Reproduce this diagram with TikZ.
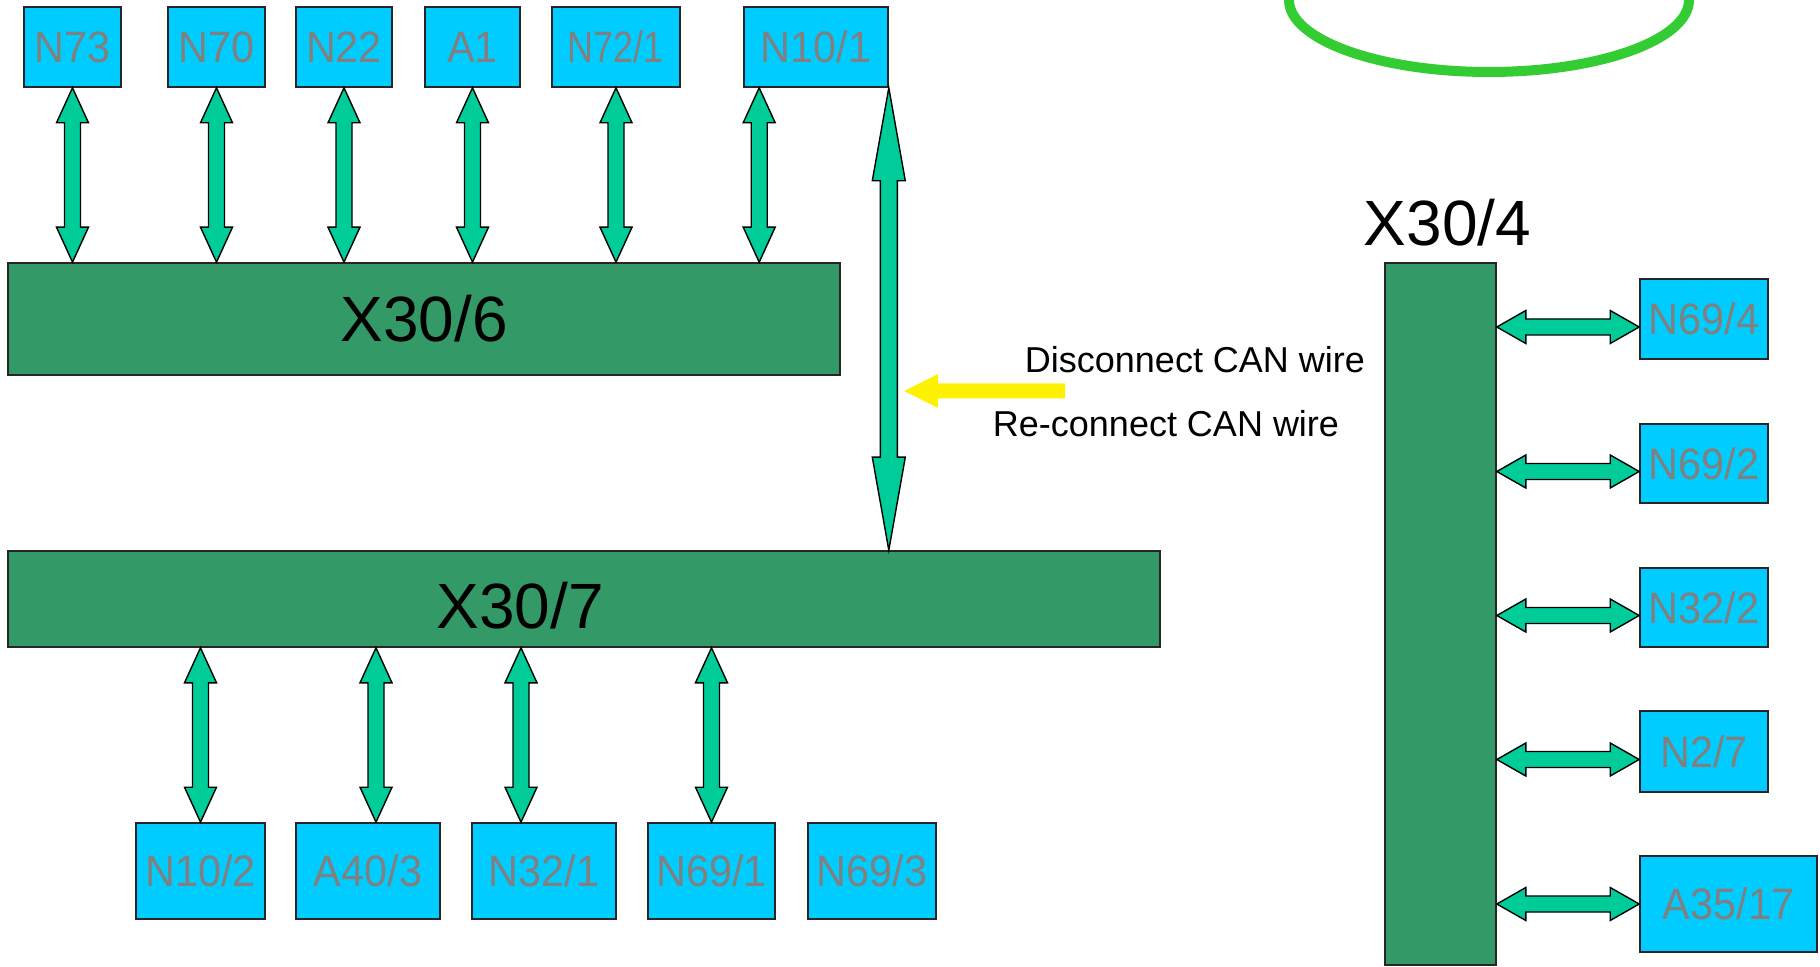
\documentclass[tikz,border=0pt]{standalone}
\usepackage{fontspec}
\setmainfont{Liberation Sans}
\newfontfamily\unitfont[FakeStretch=0.94]{Liberation Sans}
\usepackage{graphicx}
\usetikzlibrary{calc}
\definecolor{canblue}{RGB}{0,204,255}
\definecolor{busgreen}{RGB}{51,153,102}
\definecolor{linkgreen}{RGB}{0,204,153}
\definecolor{labelgray}{RGB}{128,128,128}
\definecolor{ringgreen}{RGB}{51,204,51}

% fat double arrow: from, to, head length, half head width, half shaft width
\newcommand{\buslink}[5]{%
  \filldraw[link] (#1)
    -- ($(#1)!#3!(#2)!#4!90:(#2)$) -- ($(#1)!#3!(#2)!#5!90:(#2)$)
    -- ($(#2)!#3!(#1)!#5!-90:(#1)$) -- ($(#2)!#3!(#1)!#4!-90:(#1)$)
    -- (#2)
    -- ($(#2)!#3!(#1)!#4!90:(#1)$) -- ($(#2)!#3!(#1)!#5!90:(#1)$)
    -- ($(#1)!#3!(#2)!#5!-90:(#2)$) -- ($(#1)!#3!(#2)!#4!-90:(#2)$)
    -- cycle;}

\begin{document}
\begin{tikzpicture}[
    x=0.5pt, y=-0.5pt,
    unit/.style={draw=black!85, line width=0.8pt, fill=canblue, text=labelgray, inner sep=0pt,
                 font=\unitfont\fontsize{22}{24}\selectfont},
    bus/.style={draw=black!85, line width=0.8pt, fill=busgreen, inner sep=0pt,
                font=\fontsize{32}{36}\selectfont},
    link/.style={draw=black, line width=0.7pt, fill=linkgreen},
    note/.style={inner sep=0pt, font=\fontsize{18}{20}\selectfont}
]
    \useasboundingbox (0,0) rectangle (1820,967);
    \clip (0,0) rectangle (1820,967);

    % top row
    \node[unit, minimum width=48.5pt, minimum height=40pt] (n73)  at (72.5,47) {N73};
    \node[unit, minimum width=48.5pt, minimum height=40pt] (n70)  at (216.5,47) {N70};
    \node[unit, minimum width=48pt,   minimum height=40pt] (n22)  at (344,47) {N22};
    \node[unit, minimum width=47.5pt, minimum height=40pt] (a1)   at (472.5,47) {A1};
    \node[unit, minimum width=64pt,   minimum height=40pt] (n721) at (616,47) {\scalebox{0.87}[1]{N72/1}};
    \node[unit, minimum width=72pt,   minimum height=40pt] (n101) at (816,47) {N10/1};

    % buses
    \node[bus, minimum width=416pt, minimum height=56pt] (x306) at (424,319) {X30/6};
    \node[bus, minimum width=576pt, minimum height=48pt,
          label={[font=\fontsize{32}{36}\selectfont, inner sep=0pt, xshift=-32pt, yshift=-3.5pt]center:X30/7}]
          (x307) at (584,599) {};
    \node[bus, minimum width=55.5pt, minimum height=351pt,
          label={[font=\fontsize{32}{36}\selectfont, inner sep=0pt, xshift=3.5pt, yshift=8pt]above:X30/4}]
          (x304) at (1440.5,614) {};

    % bottom row
    \node[unit, minimum width=64.5pt, minimum height=48pt] (n102) at (200.5,871) {N10/2};
    \node[unit, minimum width=72pt,   minimum height=48pt] (a403) at (368,871) {A40/3};
    \node[unit, minimum width=72pt,   minimum height=48pt] (n321) at (544,871) {N32/1};
    \node[unit, minimum width=63.5pt, minimum height=48pt] (n691) at (711.5,871) {N69/1};
    \node[unit, minimum width=64pt,   minimum height=48pt] (n693) at (872,871) {N69/3};

    % right column
    \node[unit, minimum width=64pt,   minimum height=40pt]   (n694)  at (1704,319) {N69/4};
    \node[unit, minimum width=64pt,   minimum height=39.5pt] (n692)  at (1704,463.5) {N69/2};
    \node[unit, minimum width=64pt,   minimum height=39.5pt] (n322)  at (1704,607.5) {N32/2};
    \node[unit, minimum width=64pt,   minimum height=40.5pt] (n27)   at (1704,751.5) {N2/7};
    \node[unit, minimum width=88.5pt, minimum height=48pt]   (a3517) at (1728.5,904) {A35/17};

    % links X30/6
    \foreach \u in {n73,n70,n22,a1,n721} {
        \coordinate (\u-bus) at (\u.south |- x306.north);
        \buslink{\u.south}{\u-bus}{17.5pt}{8pt}{4pt}
    }
    \coordinate (n101-out) at ($(n101.south west)+(16,0)$);
    \coordinate (n101-bus) at (n101-out |- x306.north);
    \buslink{n101-out}{n101-bus}{17.5pt}{8pt}{4pt}

    % CAN wire between N10/1 and X30/7
    \coordinate (can-bus) at (n101.south east |- x307.north);
    \buslink{n101.south east}{can-bus}{46.5pt}{8.25pt}{4.25pt}

    % links X30/7
    \coordinate (n102-in) at (n102.north);
    \coordinate (a403-in) at ($(a403.north)+(8,0)$);
    \coordinate (n321-in) at ($(n321.north)+(-23,0)$);
    \coordinate (n691-in) at (n691.north);
    \foreach \u in {n102,a403,n321,n691} {
        \coordinate (\u-bus) at (\u-in |- x307.south);
        \buslink{\u-bus}{\u-in}{17.5pt}{8pt}{4pt}
    }

    % links X30/4
    \foreach \u/\dy in {n694/8,n692/8,n322/8,n27/8,a3517/0} {
        \coordinate (\u-in) at ($(\u.west)+(0,\dy)$);
        \coordinate (\u-bus) at (x304.east |- \u-in);
        \buslink{\u-bus}{\u-in}{14.5pt}{8.25pt}{4pt}
    }

    % disconnect marker
    \coordinate (mark) at (904,391);
    \fill[yellow] (mark) -- ++(34,-17) -- ++(0,9.5) -- ++(127,0) -- ++(0,15)
        -- ++(-127,0) -- ++(0,9.5) -- cycle;
    \node[note] (disc)   at (1195,360) {Disconnect CAN wire};
    \node[note] (reconn) at (1166,424) {Re-connect CAN wire};

    % ring
    \draw[ringgreen, line width=5pt] (1489,0) ellipse [x radius=200, y radius=72];
\end{tikzpicture}
\end{document}
